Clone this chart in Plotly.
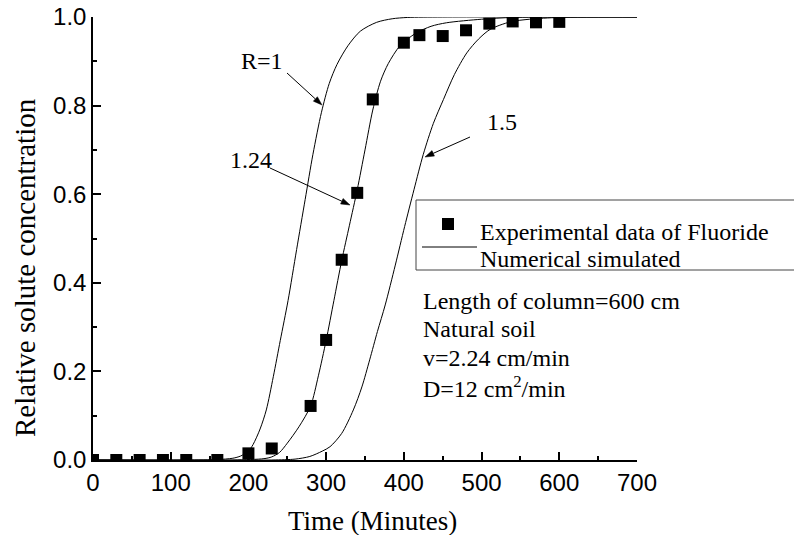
import math
import plotly.graph_objects as go

# ---------------- data ----------------
exp_time = [0, 30, 60, 90, 120, 160, 200, 230, 280, 300, 320, 340, 360, 400, 420, 450, 480, 510, 540, 570, 600]
exp_conc = [0, 0, 0, 0, 0, 0, 0.015, 0.026, 0.122, 0.271, 0.452, 0.603, 0.814, 0.942, 0.959, 0.957, 0.970, 0.985, 0.990, 0.988, 0.989]

r1_time = [0, 120, 160, 180, 190, 200, 206, 215, 223, 232, 241, 251, 262, 273, 283, 294, 304, 314, 328, 344, 365, 385, 405, 450, 700]
r1_conc = [0, 0, 0.001, 0.004, 0.009, 0.02, 0.035, 0.07, 0.113, 0.188, 0.27, 0.36, 0.475, 0.588, 0.69, 0.785, 0.85, 0.893, 0.935, 0.968, 0.988, 0.996, 0.999, 1, 1]

r124_time = [0, 180, 220, 230, 240, 250, 265, 280, 290, 300, 310, 320, 330, 340, 350, 360, 370, 380, 395, 415, 435, 455, 500, 540, 600, 700]
r124_conc = [0, 0, 0.003, 0.007, 0.017, 0.038, 0.075, 0.122, 0.19, 0.27, 0.36, 0.45, 0.53, 0.61, 0.70, 0.79, 0.855, 0.895, 0.935, 0.963, 0.979, 0.987, 0.995, 0.999, 1, 1]

r15_time = [0, 230, 260, 279, 295, 305, 320, 335, 346, 356, 366, 376, 389, 401, 413, 425, 438, 451, 465, 481, 496, 511, 537, 562, 600, 700]
r15_conc = [0, 0, 0.002, 0.008, 0.02, 0.03, 0.06, 0.113, 0.165, 0.226, 0.29, 0.35, 0.44, 0.527, 0.61, 0.69, 0.76, 0.814, 0.87, 0.919, 0.95, 0.972, 0.989, 0.995, 0.999, 1]

x_ticks = [0, 100, 200, 300, 400, 500, 600, 700]
y_ticks = [0.0, 0.2, 0.4, 0.6, 0.8, 1.0]

# ---------------- layout geometry ----------------
W, H = 794, 535
ML, MR, MT, MB = 93, 157, 17, 75
PW, PH = W - ML - MR, H - MT - MB

def px_x(px):  # pixel -> paper x
    return (px - ML) / PW

def px_y(py):  # pixel -> paper y
    return (H - MB - py) / PH

SERIF = "Liberation Serif, Times New Roman, serif"
SANS = "Liberation Sans, Arial, sans-serif"

fig = go.Figure()

line_style = dict(color="black", width=1, shape="spline", smoothing=0.8)
fig.add_trace(go.Scatter(x=r1_time, y=r1_conc, mode="lines", line=line_style,
                         name="Numerical simulated", showlegend=False))
fig.add_trace(go.Scatter(x=r124_time, y=r124_conc, mode="lines", line=line_style,
                         showlegend=False))
fig.add_trace(go.Scatter(x=r15_time, y=r15_conc, mode="lines", line=line_style,
                         showlegend=False))
fig.add_trace(go.Scatter(x=exp_time, y=exp_conc, mode="markers",
                         marker=dict(symbol="square", size=12, color="black"),
                         name="Experimental data of Fluoride", showlegend=False))

annotations = []
shapes = []

# curve labels
for txt, cx, cy in [("R=1", 262, 61), ("1.24", 251, 160), ("1.5", 502, 122)]:
    annotations.append(dict(text=txt, xref="paper", yref="paper", x=px_x(cx), y=px_y(cy),
                            xanchor="center", yanchor="middle", showarrow=False,
                            font=dict(family=SERIF, size=24, color="black")))

# arrows drawn as shapes: (tail px, tip px)
HEAD_LEN, HEAD_HALF = 9, 3
for (tx, ty), (hx, hy) in [((287, 73), (322, 105)), ((270, 168), (350, 205)), ((470, 137), (425, 157))]:
    dx, dy = hx - tx, hy - ty
    L = math.hypot(dx, dy)
    ux, uy = dx / L, dy / L
    nx, ny = -uy, ux
    bx, by = hx - HEAD_LEN * ux, hy - HEAD_LEN * uy
    shapes.append(dict(type="line", xref="paper", yref="paper",
                       x0=px_x(tx), y0=px_y(ty), x1=px_x(bx), y1=px_y(by),
                       line=dict(color="black", width=1)))
    pts = [(hx, hy), (bx + HEAD_HALF * nx, by + HEAD_HALF * ny), (bx - HEAD_HALF * nx, by - HEAD_HALF * ny)]
    path = "M " + " L ".join(f"{px_x(px):.5f},{px_y(py):.5f}" for px, py in pts) + " Z"
    shapes.append(dict(type="path", xref="paper", yref="paper", path=path,
                       fillcolor="black", line=dict(color="black", width=0.5)))

# legend (drawn manually)
shapes.append(dict(type="rect", xref="paper", yref="paper", x0=px_x(416), x1=px_x(810),
                   y0=px_y(270), y1=px_y(200), line=dict(color="#444", width=1)))
shapes.append(dict(type="rect", xref="paper", yref="paper", x0=px_x(442), x1=px_x(454),
                   y0=px_y(230), y1=px_y(218), line=dict(width=0), fillcolor="black"))
shapes.append(dict(type="line", xref="paper", yref="paper", x0=px_x(422), x1=px_x(477),
                   y0=px_y(247), y1=px_y(247), line=dict(color="black", width=1)))
for txt, cy in [("Experimental data of Fluoride", 232), ("Numerical simulated", 259)]:
    annotations.append(dict(text=txt, xref="paper", yref="paper", x=px_x(478), y=px_y(cy),
                            xanchor="left", yanchor="middle", showarrow=False,
                            font=dict(family=SERIF, size=24, color="black")))

# info text
for txt, cy in [("Length of column=600 cm", 301), ("Natural soil", 329),
                 ("v=2.24 cm/min", 358), ("D=12 cm<sup>2</sup>/min", 387)]:
    annotations.append(dict(text=txt, xref="paper", yref="paper", x=px_x(421), y=px_y(cy),
                            xanchor="left", yanchor="middle", showarrow=False,
                            font=dict(family=SERIF, size=24, color="black")))

# axis titles
annotations.append(dict(text="Time (Minutes)", xref="paper", yref="paper",
                        x=px_x(372), y=px_y(521), xanchor="center", yanchor="middle",
                        showarrow=False, font=dict(family=SERIF, size=27, color="black")))
annotations.append(dict(text="Relative solute concentration", xref="paper", yref="paper",
                        x=px_x(25), y=px_y(268), xanchor="center", yanchor="middle",
                        textangle=-90, showarrow=False,
                        font=dict(family=SERIF, size=29, color="black")))

axis_common = dict(showline=True, linecolor="black", linewidth=1.5, mirror=False,
                   showgrid=False, zeroline=False, ticks="inside", ticklen=8,
                   tickwidth=1.5, tickcolor="black", automargin=False,
                   tickfont=dict(family=SANS, size=24, color="black"))

fig.update_layout(
    width=W, height=H,
    margin=dict(l=ML, r=MR, t=MT, b=MB, pad=0),
    paper_bgcolor="white", plot_bgcolor="white",
    showlegend=False,
    xaxis=dict(range=[0, 700], tickvals=x_ticks, ticktext=[str(v) for v in x_ticks],
               minor=dict(ticks="inside", ticklen=4, tickwidth=1.5, tickcolor="black", dtick=50),
               **axis_common),
    yaxis=dict(range=[0, 1], tickvals=y_ticks, ticktext=[f"{v:.1f}" for v in y_ticks],
               minor=dict(ticks="inside", ticklen=4, tickwidth=1.5, tickcolor="black", dtick=0.1),
               **axis_common),
    annotations=annotations,
    shapes=shapes,
)

fig.write_html("out.html")
